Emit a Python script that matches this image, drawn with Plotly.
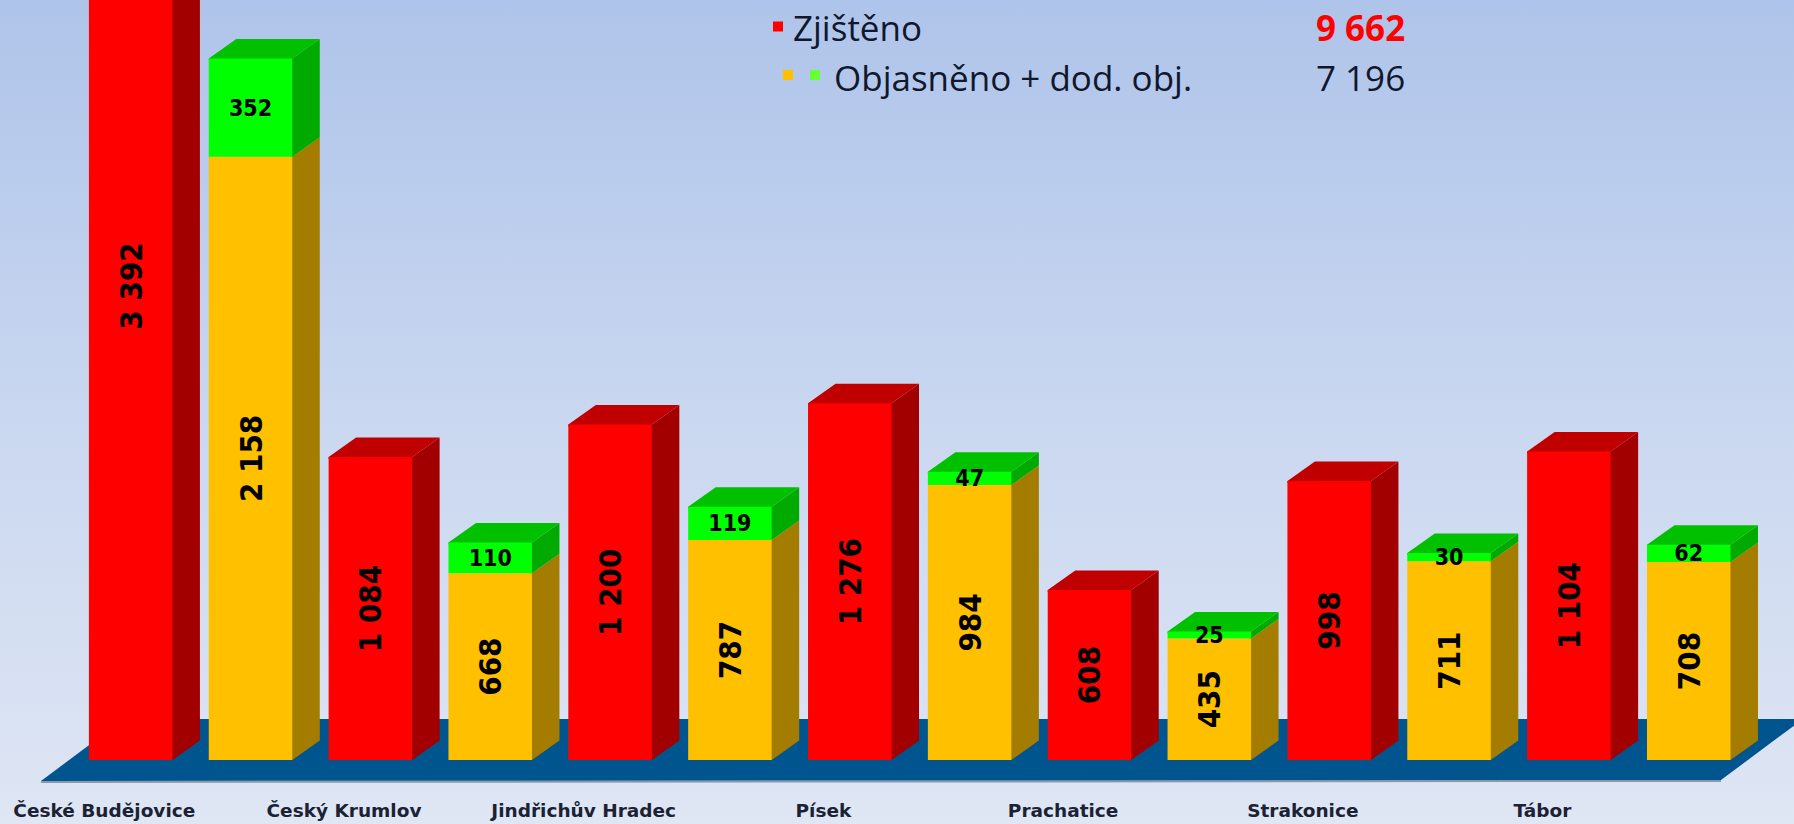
import plotly.graph_objects as go

# --- data ---
districts = ["České Budějovice", "Český Krumlov", "Jindřichův Hradec", "Písek",
             "Prachatice", "Strakonice", "Tábor"]
zjisteno = [3392, 1084, 1200, 1276, 608, 998, 1104]
objasneno = [2158, 668, 787, 984, 435, 711, 708]
dodatecne = [352, 110, 119, 47, 25, 30, 62]
total_zjisteno = "9 662"
total_objasneno = "7 196"
legend_zjisteno = "Zjištěno"
legend_objasneno = "Objasněno + dod. obj."

# --- layout constants ---
W, H = 1794, 824
PITCH = 239.7          # px per district
X0 = 190.6             # px of district 0 centre
UNIT = 0.2795          # px per case
BASE = 760             # px of value 0
BAR_W = 83.5 / PITCH
OFF = 0.25
DX = 27.5 / PITCH
DY = 19.5 / UNIT
TUCK_X = 2 / PITCH     # faces run slightly under the front face, so no seam shows
TUCK_Y = 2 / UNIT

XR = [(0 - X0) / PITCH, (W - X0) / PITCH]
YR = [(BASE - H) / UNIT, BASE / UNIT]


def px_x(p):
    return (p - X0) / PITCH


def px_y(p):
    return (BASE - p) / UNIT


def fmt(v):
    return f"{v:,}".replace(",", " ")


RED, RED_SIDE, RED_TOP = "#FF0000", "#A20000", "#C00000"
YEL, YEL_SIDE = "#FFC000", "#A37C00"
GRN, GRN_SIDE, GRN_TOP = "#00FF00", "#00AA00", "#00C000"
FLOOR = "#00558F"
SANS = "DejaVu Sans Condensed"
n = range(len(districts))


def sides(xc, low, high):
    xs, ys = [], []
    for x, a, b in zip(xc, low, high):
        r = x + BAR_W / 2
        xs += [r - TUCK_X, r, r + DX, r + DX, r, r - TUCK_X, r - TUCK_X, None]
        ys += [a, a, a + DY, b + DY, b, b, a, None]
    return xs, ys


def tops(xc, high):
    xs, ys = [], []
    for x, b in zip(xc, high):
        l, r = x - BAR_W / 2, x + BAR_W / 2
        xs += [l, l + DX, r + DX, r, r, l, l, None]
        ys += [b, b + DY, b + DY, b, b - TUCK_Y, b - TUCK_Y, b, None]
    return xs, ys


def poly(xs, ys, color):
    return go.Scatter(x=xs, y=ys, mode="lines", line=dict(width=0), fill="toself",
                      fillcolor=color, hoverinfo="skip", showlegend=False)


fig = go.Figure()

# background
fig.add_trace(go.Scatter(
    x=[XR[0], XR[1], XR[1], XR[0], XR[0]], y=[YR[0], YR[0], YR[1], YR[1], YR[0]],
    mode="lines", line=dict(width=0), fill="toself", hoverinfo="skip", showlegend=False,
    fillgradient=dict(type="vertical",
                      colorscale=[[0, "#DFE6F4"], [0.5, "#C9D7F0"], [1, "#AFC4EA"]]),
))

# floor
fx = [px_x(p) for p in (41, 1721, 1803, 124, 41)]
fy = [px_y(p) for p in (781, 780, 719, 719, 781)]
fig.add_trace(go.Scatter(x=[px_x(41), px_x(1721)], y=[px_y(782), px_y(781)], mode="lines",
                         line=dict(color="#8C97A8", width=2), hoverinfo="skip", showlegend=False))
fig.add_trace(poly(fx, fy, FLOOR))

xr = [i - OFF for i in n]
xy = [i + OFF for i in n]
stack = [a + b for a, b in zip(objasneno, dodatecne)]

# 3D side and top faces (below the front faces and their labels)
fig.add_trace(poly(*sides(xr, [0] * 7, zjisteno), RED_SIDE))
fig.add_trace(poly(*tops(xr, zjisteno), RED_TOP))
fig.add_trace(poly(*sides(xy, [0] * 7, objasneno), YEL_SIDE))
fig.add_trace(poly(*sides(xy, objasneno, stack), GRN_SIDE))
fig.add_trace(poly(*tops(xy, stack), GRN_TOP))

# front faces
common = dict(width=BAR_W, insidetextanchor="middle", constraintext="none", textposition="inside",
              xaxis="x2", yaxis="y2", showlegend=False, hoverinfo="skip")
big = dict(family=SANS, size=31, color="black", weight=700)
fig.add_trace(go.Bar(x=xr, y=zjisteno, marker=dict(color=RED, line=dict(width=0)),
                     text=[fmt(v) for v in zjisteno], textangle=-90, textfont=big, **common))
fig.add_trace(go.Bar(x=xy, y=objasneno, marker=dict(color=YEL, line=dict(width=0)),
                     text=[fmt(v) for v in objasneno], textangle=-90, textfont=big, **common))
fig.add_trace(go.Bar(x=xy, y=dodatecne, base=objasneno,
                     marker=dict(color=GRN, line=dict(width=0)),
                     text=[fmt(v) for v in dodatecne], textangle=0,
                     textfont=dict(family=SANS, size=23, color="black", weight=700),
                     **common))

# legend squares
fig.add_trace(go.Scatter(
    x=[px_x(778), px_x(788), px_x(815)], y=[px_y(26.5), px_y(75), px_y(75)], mode="markers",
    marker=dict(symbol="square", size=10, color=[RED, YEL, "#66FF33"]),
    xaxis="x2", yaxis="y2", hoverinfo="skip", showlegend=False))

LEG_FONT = dict(family="Open Sans", size=35, color="#10182E")
VAL_FONT = dict(family="Open Sans", size=35, color="#10182E")
annotations = [
    dict(text=legend_zjisteno, x=791 / W, y=1 - 27 / H, xanchor="left", font=LEG_FONT),
    dict(text=legend_objasneno, x=832 / W, y=1 - 78 / H, xanchor="left", font=LEG_FONT),
    dict(text=total_zjisteno, x=1407 / W, y=1 - 27 / H, xanchor="right",
         font=dict(family="Open Sans", size=35, color="#FF0000", weight=700)),
    dict(text=total_objasneno, x=1407 / W, y=1 - 78 / H, xanchor="right", font=VAL_FONT),
]
for a in annotations:
    a.update(xref="paper", yref="paper", yanchor="middle", showarrow=False)

fig.update_layout(
    width=W, height=H, margin=dict(l=0, r=0, t=0, b=0), autosize=False,
    paper_bgcolor="#DFE6F4", plot_bgcolor="rgba(0,0,0,0)", barmode="overlay",
    annotations=annotations,
    xaxis=dict(range=XR, visible=False, fixedrange=True),
    yaxis=dict(range=YR, visible=False, fixedrange=True),
    xaxis2=dict(range=XR, overlaying="x", fixedrange=True, showgrid=False, zeroline=False,
                side="bottom", showline=False, anchor="y2",
                tickmode="array", tickvals=[i - 0.36 for i in n], ticktext=districts,
                ticklabelposition="inside", ticks="",
                tickfont=dict(family="DejaVu Sans", size=18.5, color="#1A2233", weight=700)),
    yaxis2=dict(range=YR, overlaying="y", visible=False, fixedrange=True),
)
fig.write_html("out.html", config=dict(displayModeBar=False),
               post_script="document.body.style.margin='0';document.documentElement.style.overflow='hidden';")
